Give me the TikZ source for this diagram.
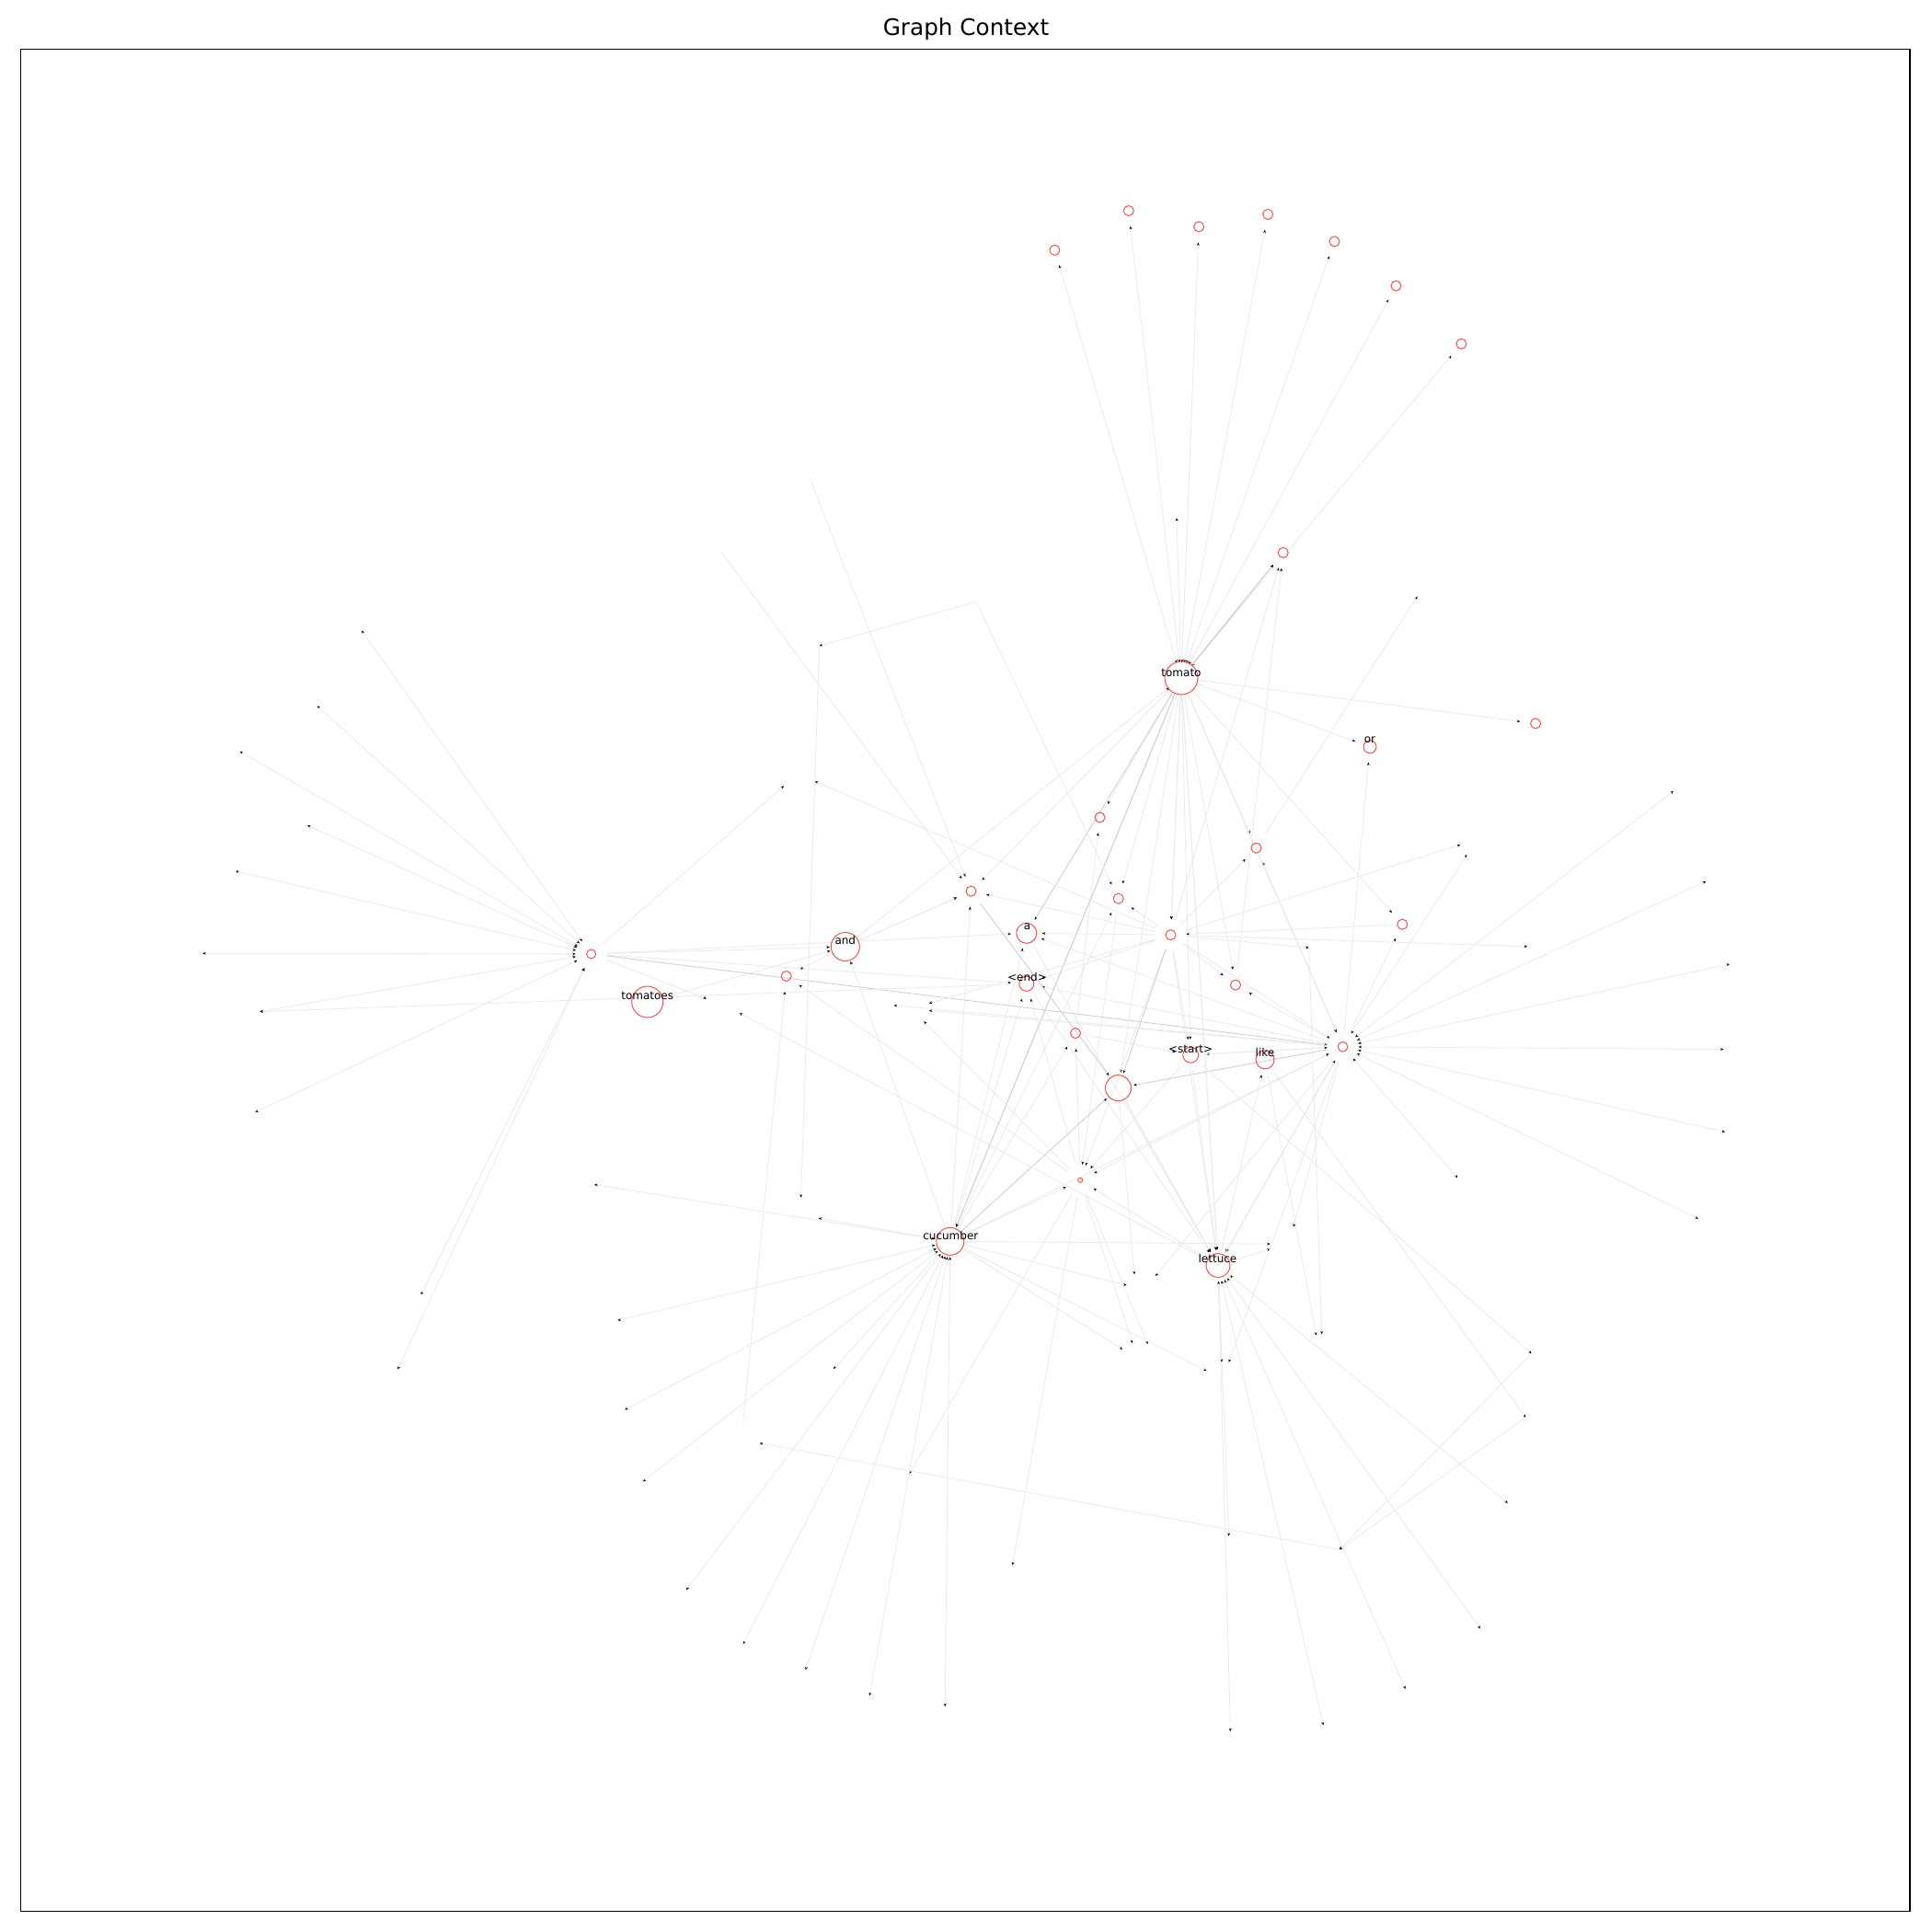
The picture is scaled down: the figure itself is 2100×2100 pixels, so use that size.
\documentclass[tikz,border=0pt]{standalone}
\usepackage{fontspec}
\setmainfont{DejaVu Sans}
\usetikzlibrary{arrows.meta}
\definecolor{nodered}{RGB}{255,80,80}
\definecolor{edgegray}{RGB}{234,234,234}
\definecolor{edgedark}{RGB}{205,205,205}
\tikzset{
  ed/.style={draw=edgegray, line width=0.8pt, -{Stealth[length=3.4pt,width=2.8pt,color=black]}},
  bi/.style={{Stealth[length=3.4pt,width=2.8pt,color=black]}-{Stealth[length=3.4pt,width=2.8pt,color=black]}},
  hh/.style={ed, shorten <=17pt, shorten >=17pt},
  hl/.style={ed, shorten <=17pt},
  lh/.style={ed, shorten >=17pt},
  ll/.style={ed},
  dk/.style={draw=edgedark},
  circ/.style={draw=nodered, line width=1pt},
  lab/.style={font=\fontsize{12}{14}\selectfont, inner sep=0pt, text=black},
}
\begin{document}
\begin{tikzpicture}[x=1pt,y=-1pt]
\useasboundingbox (0,0) rectangle (2100,2100);
\fill[white] (0,0) rectangle (2100,2100);
% ---------- main nodes ----------
\coordinate (T) at (1284,737);
\coordinate (OR) at (1489,811.7);
\coordinate (A) at (1115.8,1014.3);
\coordinate (EN) at (1115.8,1069.3);
\coordinate (ST) at (1294.2,1146.7);
\coordinate (LK) at (1375,1151.8);
\coordinate (AND) at (918.8,1029);
\coordinate (TS) at (703.7,1089);
\coordinate (CU) at (1032.8,1349.3);
\coordinate (LE) at (1324,1375.5);
\coordinate (BIG) at (1215.5,1182.6);
\coordinate (H1) at (1272.5,1016.2);
\coordinate (H2) at (1459.6,1137.8);
\coordinate (H3) at (1174.1,1282.8);
\coordinate (HL) at (642.6,1036.9);
\coordinate (C1) at (1055.5,968.7);
\coordinate (C2) at (1215.7,976.7);
\coordinate (C3) at (1365.5,921.7);
\coordinate (C4) at (1195.5,888.5);
\coordinate (C5) at (1343,1070.6);
\coordinate (C6) at (1169,1123);
\coordinate (C7) at (1524.3,1004.7);
\coordinate (C8) at (1394.7,600.7);
\coordinate (C9) at (1669.1,786.4);
\coordinate (CX) at (854.7,1061);
\coordinate (P1) at (1146.4,271.9);
\coordinate (P2) at (1226.8,229.0);
\coordinate (P3) at (1303.1,246.4);
\coordinate (P4) at (1378.1,233.0);
\coordinate (P5) at (1450.5,262.5);
\coordinate (P6) at (1517.4,310.7);
\coordinate (P7) at (1588.4,373.7);
% ---------- leaves ----------
\coordinate (L1) at (1279,563);
\coordinate (L2) at (1540.6,648.4);
\coordinate (L3) at (1818.9,859.9);
\coordinate (L4) at (1587.2,918.3);
\coordinate (L5) at (1594.4,929);
\coordinate (L6) at (1854.3,958.1);
\coordinate (L7) at (1660.1,1028.8);
\coordinate (L8) at (1880,1048);
\coordinate (L9) at (1873.4,1140.5);
\coordinate (L10) at (1875,1230.3);
\coordinate (L11) at (1845.9,1324.6);
\coordinate (L12) at (1584.4,1280.3);
\coordinate (L13) at (1422.7,1030);
\coordinate (L14) at (1405.9,1333.6);
\coordinate (L15) at (1664.6,1471.1);
\coordinate (L16) at (1658.4,1540.7);
\coordinate (L17) at (1638.8,1633.8);
\coordinate (L18) at (1609,1770.2);
\coordinate (L19) at (1527.7,1835.9);
\coordinate (L20) at (1438.4,1875.2);
\coordinate (L21) at (1337.4,1881.9);
\coordinate (L22) at (1436.7,1450.3);
\coordinate (L23) at (1430.6,1451.4);
\coordinate (L24) at (1455.8,1684.3);
\coordinate (L25) at (1335.7,1669.7);
\coordinate (L26) at (825.7,1568.7);
\coordinate (L27) at (1233,1385.2);
\coordinate (L28) at (1256,1386.9);
\coordinate (L29) at (1224.6,1397);
\coordinate (L30) at (1220.1,1466.6);
\coordinate (L31) at (1230.8,1459.9);
\coordinate (L32) at (1247.6,1461);
\coordinate (L33) at (1311.6,1490.2);
\coordinate (L34) at (1327.9,1480.6);
\coordinate (L35) at (988.4,1601.8);
\coordinate (L36) at (1335.7,1480.6);
\coordinate (L37) at (1100.6,1701.2);
\coordinate (L38) at (1380.6,1352.1);
\coordinate (L39) at (1380.6,1357.7);
\coordinate (L40) at (1027.2,1855);
\coordinate (L41) at (945.2,1843.1);
\coordinate (L42) at (875.6,1815.1);
\coordinate (L43) at (807.7,1787);
\coordinate (L44) at (746,1728.1);
\coordinate (L45) at (698.9,1610.3);
\coordinate (L46) at (679.2,1532.3);
\coordinate (L47) at (671.4,1435.2);
\coordinate (L48) at (905.9,1487.9);
\coordinate (L49) at (646,1287.6);
\coordinate (L50) at (889.7,1324.1);
\coordinate (L51) at (870.6,1301.6);
\coordinate (L52) at (890.6,702);
\coordinate (L53) at (1060.8,654);
\coordinate (L54) at (880.7,521);
\coordinate (L55) at (783.6,599.5);
\coordinate (L56) at (852.1,854.3);
\coordinate (L57) at (885.8,849.3);
\coordinate (L58) at (767.9,1085.5);
\coordinate (L59) at (803.8,1101.2);
\coordinate (L60) at (971.6,1092.8);
\coordinate (L61) at (1009.8,1090.5);
\coordinate (L62) at (1009.8,1098.4);
\coordinate (L63) at (1004.2,1110.2);
\coordinate (L64) at (393.1,685.4);
\coordinate (L65) at (344.8,767.3);
\coordinate (L66) at (260.6,816.7);
\coordinate (L67) at (334.1,897);
\coordinate (L68) at (256.1,946.9);
\coordinate (L69) at (220.2,1036.3);
\coordinate (L70) at (282.5,1099.6);
\coordinate (L71) at (277.4,1209);
\coordinate (L72) at (457.6,1407.1);
\coordinate (L73) at (432.3,1488.5);
\coordinate (L75) at (807.8,1546.9);
% ---------- edges: hub to hub ----------
\foreach \s/\t in {T/C2,T/H1,T/H1,T/ST,T/CU,T/CU,T/LE,T/LE,T/C7,T/OR,T/C9,T/C4,T/H2,T/C1,T/C5,T/C3,
  AND/T,TS/AND,HL/AND,HL/A,HL/EN,AND/C1,AND/C1,AND/CX,CU/AND,H3/CX,
  CU/C1,H1/C1,H1/C2,CU/C2,C6/C4,H2/C3,H1/C3,H1/C8,C5/C8,H2/C7,H2/OR,H2/C5,H1/C5,
  CU/C6,H3/C6,H1/A,H2/A,CU/A,H1/EN,H2/EN,CU/EN,H3/EN,H1/ST,H2/ST,C6/ST,LE/LK,T/BIG,
  H1/LE,BIG/LE,BIG/LE,BIG/LE,H2/LE,H2/LE,H2/LE,ST/LE,EN/LE,A/LE,
  H2/H3,H1/H3,ST/H3,C2/H3,CU/H3,LE/H3,C7/H1,T/H2,ST/H2,LE/H2,CU/H2,H1/H2}
  \draw[hh] (\s) -- (\t);
\foreach \s/\t in {T/P1,T/P2,T/P3,T/P4,T/P5,T/P6,T/P7}
  \draw[hh,bi] (\s) -- (\t);
\foreach \s/\t in {T/A,T/C8,T/C8,T/CU,HL/H2,C1/BIG,H2/BIG,H1/BIG,CU/BIG}
  \draw[hh,dk] (\s) -- (\t);
% ---------- edges: hub to leaf ----------
\foreach \s/\t in {T/L1,C3/L2,
  H1/L4,H1/L7,H1/L13,H1/L57,H1/L61,
  H3/L31,H3/L32,H3/L35,H3/L37,H3/L63,
  LE/L25,LE/L34,LE/L39,LE/L59,
  CU/L29,CU/L30,CU/L33,CU/L38,CU/L48,CU/L50,
  ST/L15,LK/L16,LK/L23,BIG/L27,
  H2/L14,H2/L28,H2/L36,H2/L60,H2/L62,
  HL/L58,HL/L56,EN/L70}
  \draw[hl] (\s) -- (\t);
% ---------- edges: hub to leaf, both ways ----------
\foreach \s/\t in {H2/L3,H2/L5,H2/L6,H2/L8,H2/L9,H2/L10,H2/L11,H2/L12,
  LE/L17,LE/L18,LE/L19,LE/L20,LE/L21,
  CU/L40,CU/L41,CU/L42,CU/L43,CU/L44,CU/L45,CU/L46,CU/L47,CU/L49,
  HL/L64,HL/L65,HL/L66,HL/L67,HL/L68,HL/L69,HL/L70,HL/L71,HL/L72,HL/L73}
  \draw[hl,bi] (\s) -- (\t);
% ---------- edges: leaf to hub ----------
\foreach \s/\t in {L54/C1,L55/C1,L53/C2,L75/CX}
  \draw[lh] (\s) -- (\t);
% ---------- edges: leaf to leaf ----------
\foreach \s/\t in {L53/L52,L52/L51,L13/L22,L15/L24,L16/L24,L24/L26}
  \draw[ll] (\s) -- (\t);
% ---------- circles ----------
\foreach \n/\r in {T/18,OR/7,A/11,EN/8,ST/8.5,LK/10,AND/15.5,TS/17,CU/15,LE/13,BIG/14,
  H1/5.5,H2/5.3,H3/2.5,HL/5,C1/5.5,C2/5.5,C3/5.5,C4/5.5,C5/5.5,C6/5.5,C7/5.5,C8/5.5,C9/5.5,CX/5.5,
  P1/5.5,P2/5.5,P3/5.5,P4/5.5,P5/5.5,P6/5.5,P7/5.5}
  \draw[circ] (\n) circle[radius=\r pt];
% ---------- labels ----------
\node[lab] (lT) at (1284,731) {tomato};
\node[lab] (lOR) at (1489,804.4) {or};
\node[lab] (lA) at (1116.5,1007.5) {a};
\node[lab] (lEN) at (1116.5,1062) {<end>};
\node[lab] (lST) at (1294.2,1140) {<start>};
\node[lab] (lLK) at (1375,1144.5) {like};
\node[lab] (lAND) at (918.8,1022) {and};
\node[lab] (lTS) at (703.7,1082) {tomatoes};
\node[lab] (lCU) at (1033.3,1343) {cucumber};
\node[lab] (lLE) at (1323.5,1368) {lettuce};
% ---------- frame and title ----------
\draw[line width=1.3pt] (22.8,53.6) rectangle (2076,2077.3);
\node[font=\fontsize{24.7}{30}\selectfont, inner sep=0pt] (title) at (1050,32) {Graph Context};
\end{tikzpicture}
\end{document}
